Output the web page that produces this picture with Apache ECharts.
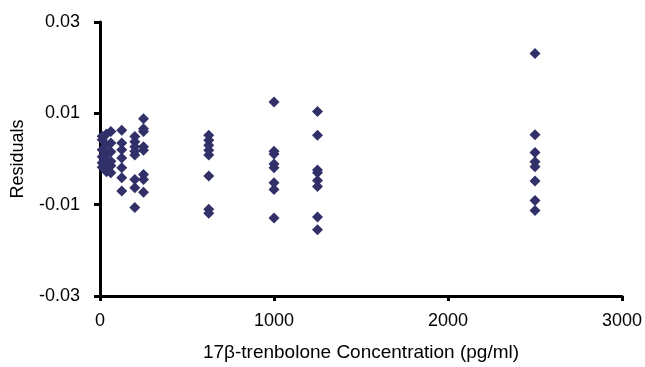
<!DOCTYPE html>
<html>
<head>
<meta charset="utf-8">
<script src="https://cdn.jsdelivr.net/npm/echarts@6/dist/echarts.min.js"></script>
<style>
  html, body { margin: 0; padding: 0; background: #fff; }
  #main { width: 645px; height: 367px; }
</style>
</head>
<body>
<div id="main"></div>
<script>
// concentrations (pg/ml) and residuals
const conc = [12.5, 37.5, 62.5, 125, 200, 250, 625, 1000, 1250, 2500];
const residuals = [
  [0.0050, 0.0042, 0.0020, 0.0005, -0.0008, -0.0018],
  [0.0055, 0.0030, 0.0010, -0.0005, -0.0020, -0.0028],
  [0.0060, 0.0035, 0.0016, -0.0005, -0.0015, -0.0030],
  [0.0063, 0.0035, 0.0020, 0.0002, -0.0019, -0.0041, -0.0070],
  [0.0049, 0.0038, 0.0027, 0.0017, 0.0009, -0.0045, -0.0063, -0.0106],
  [0.0088, 0.0066, 0.0060, 0.0027, 0.0019, -0.0034, -0.0045, -0.0073],
  [0.0052, 0.0041, 0.0030, 0.0019, 0.0009, -0.0037, -0.0110, -0.0119],
  [0.0125, 0.0017, 0.0011, -0.0011, -0.0019, -0.0052, -0.0067, -0.0129],
  [0.0104, 0.0052, -0.0024, -0.0030, -0.0047, -0.0060, -0.0127, -0.0155],
  [0.0231, 0.0053, 0.0014, -0.0006, -0.0017, -0.0048, -0.0091, -0.0113]
];
const xTicks = [0, 1000, 2000, 3000];
const yTicks = [-0.03, -0.01, 0.01, 0.03];

const points = conc.flatMap((c, i) => residuals[i].map((r) => [c, r]));

const font = 'Liberation Sans, Arial, sans-serif';
const myChart = echarts.init(document.getElementById('main'));

const option = {
  animation: false,
  grid: { left: 100, right: 21, top: 22, bottom: 66 },
  xAxis: {
    type: 'value',
    min: xTicks[0],
    max: xTicks[xTicks.length - 1],
    interval: 1000,
    name: '17β-trenbolone Concentration (pg/ml)',
    nameLocation: 'middle',
    nameGap: 47,
    nameTextStyle: { color: '#000', fontSize: 19, fontFamily: font },
    axisLine: { onZero: false, lineStyle: { color: '#000', width: 3 } },
    axisTick: { inside: false, length: 5, lineStyle: { color: '#000', width: 3 } },
    axisLabel: {
      color: '#000', fontSize: 18, fontFamily: font, margin: 16,
      formatter: (v) => String(v)
    },
    splitLine: { show: false }
  },
  yAxis: {
    type: 'value',
    min: yTicks[0],
    max: yTicks[yTicks.length - 1],
    interval: 0.02,
    name: 'Residuals',
    nameLocation: 'middle',
    nameGap: 73,
    nameTextStyle: { color: '#000', fontSize: 18, fontFamily: font },
    axisLine: { onZero: false, lineStyle: { color: '#000', width: 3 } },
    axisTick: { inside: false, length: 6, lineStyle: { color: '#000', width: 3 } },
    axisLabel: {
      color: '#000', fontSize: 18, fontFamily: font, margin: 20,
      formatter: (v) => v.toFixed(2)
    },
    splitLine: { show: false }
  },
  series: [
    {
      type: 'scatter',
      symbol: 'diamond',
      symbolSize: 11,
      itemStyle: { color: '#323068', opacity: 1 },
      data: points
    }
  ]
};

myChart.setOption(option);
</script>
</body>
</html>
